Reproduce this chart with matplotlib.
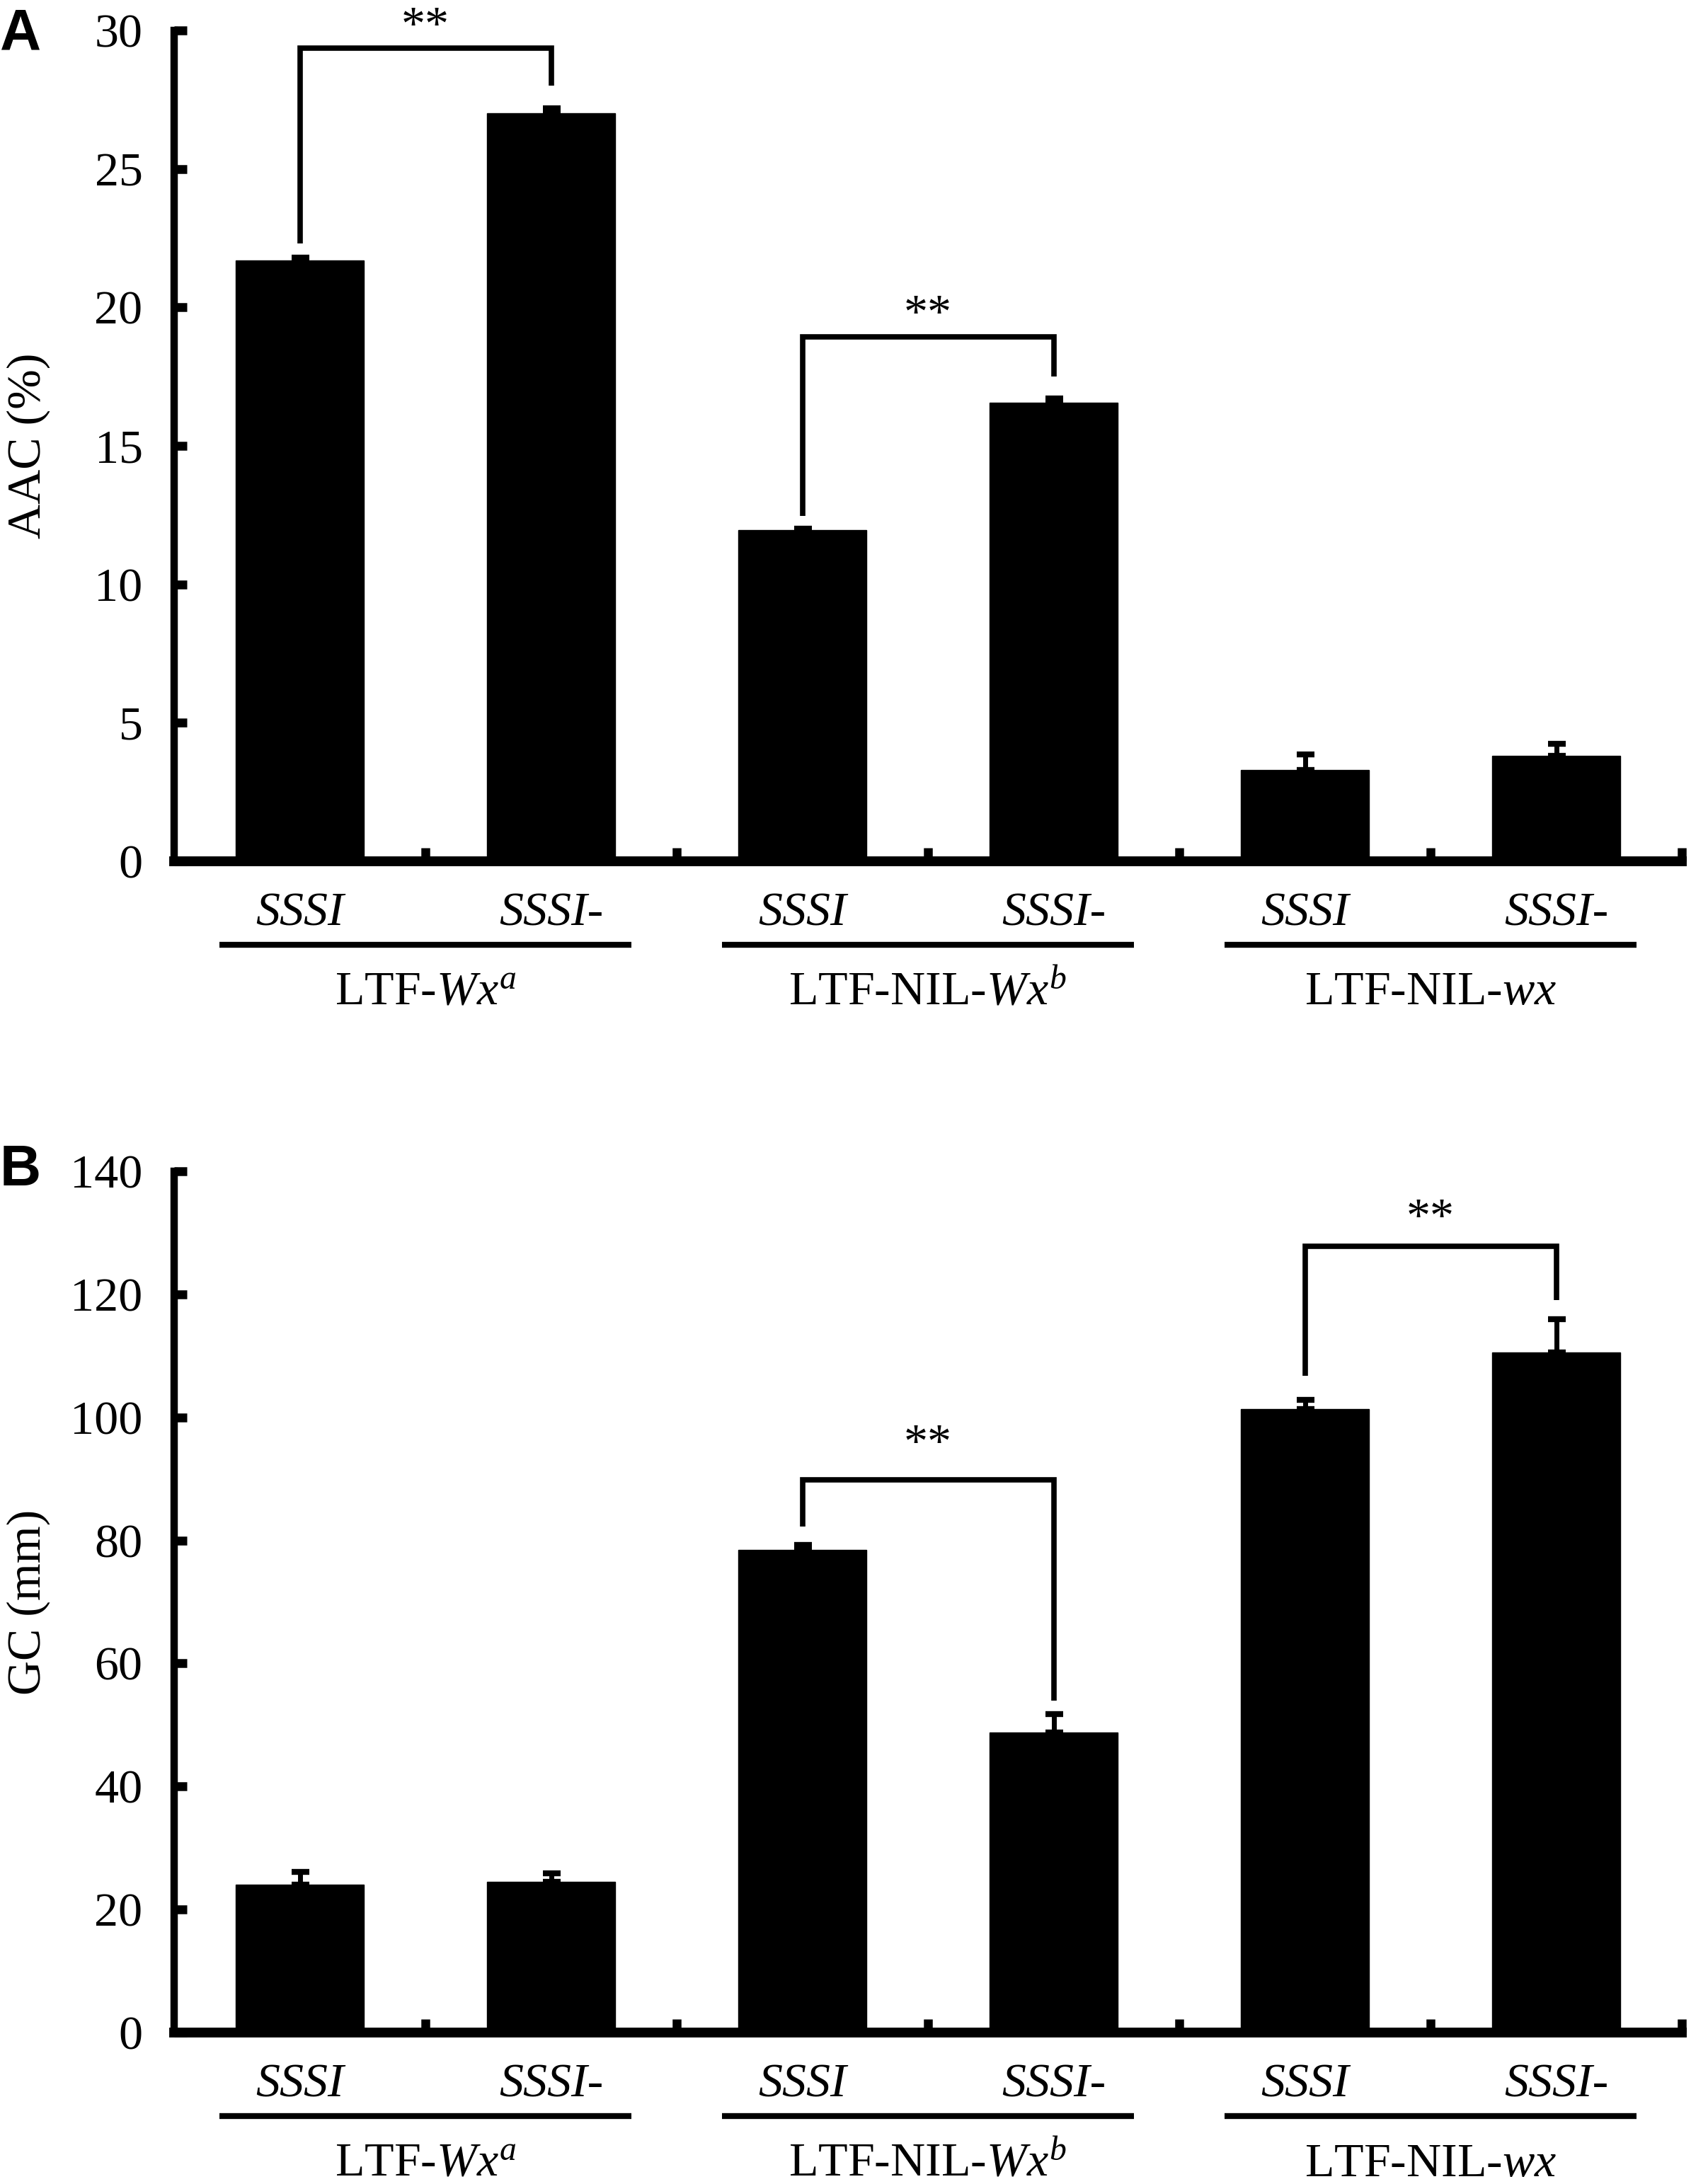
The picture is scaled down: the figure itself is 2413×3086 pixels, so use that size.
import matplotlib
matplotlib.use("Agg")
import matplotlib.pyplot as plt
from matplotlib.transforms import ScaledTranslation
from matplotlib.lines import Line2D

plt.rcParams['font.family'] = ['Liberation Serif', 'DejaVu Serif']
plt.rcParams['mathtext.fontset'] = 'custom'
plt.rcParams['mathtext.rm'] = 'Liberation Serif'
plt.rcParams['mathtext.it'] = 'Liberation Serif:italic'
plt.rcParams['mathtext.bf'] = 'Liberation Serif:bold'

# ---------------- data ----------------
bar_labels = ["SSSI", "SSSI-", "SSSI", "SSSI-", "SSSI", "SSSI-"]
group_labels = [r"LTF-$\mathit{Wx}^{a}$", r"LTF-NIL-$\mathit{Wx}^{b}$", r"LTF-NIL-$\mathit{wx}$"]

aac_values = [21.7, 27.0, 11.95, 16.55, 3.3, 3.8]
aac_errors = [0.1, 0.2, 0.05, 0.15, 0.55, 0.45]

gc_values = [24.1, 24.5, 78.5, 48.8, 101.3, 110.5]
gc_errors = [2.0, 1.4, 0.8, 3.0, 1.6, 5.5]

aac_ticks = [0, 5, 10, 15, 20, 25, 30]
gc_ticks = [0, 20, 40, 60, 80, 100, 120, 140]

# significance brackets: (left bar, right bar, top y, left end y, right end y, star baseline y)
aac_brackets = [(0, 1, 29.35, 22.3, 28.0, 29.7), (2, 3, 18.93, 12.48, 17.5, 19.3)]
gc_brackets = [(2, 3, 89.8, 82.3, 54.0, 93.6), (4, 5, 127.8, 106.8, 119.1, 130.3)]

# ---------------- figure ----------------
W, H = 2413, 3086
DPI = 100
fig = plt.figure(figsize=(W / DPI, H / DPI), dpi=DPI)

FS = 49
ax_left = 246 / W
ax_right = 2376 / W

panels = [
    dict(rect=(ax_left, 1 - 1217 / H, ax_right - ax_left, (1217 - 43) / H),
         vals=aac_values, errs=aac_errors, ticks=aac_ticks, ylim=(0, 30),
         ylabel="AAC (%)", brackets=aac_brackets, letter="A", letter_y=10),
    dict(rect=(ax_left, 1 - 2872 / H, ax_right - ax_left, (2872 - 1655) / H),
         vals=gc_values, errs=gc_errors, ticks=gc_ticks, ylim=(0, 140),
         ylabel="GC (mm)", brackets=gc_brackets, letter="B", letter_y=1616),
]

for p in panels:
    ax = fig.add_axes(p["rect"])
    n = len(p["vals"])
    xs = [i + 0.5 for i in range(n)]
    ax.bar(xs, p["vals"], width=0.51, color="black", edgecolor="black", zorder=2)
    ax.errorbar(xs, p["vals"], yerr=[[0] * n, p["errs"]], fmt="none", ecolor="black",
                elinewidth=5, capsize=9, capthick=6, zorder=3)
    ax.set_xlim(0, n)
    ax.set_ylim(*p["ylim"])
    ax.set_yticks(p["ticks"])
    ax.set_yticklabels([str(t) for t in p["ticks"]], fontsize=FS)
    ax.set_xticks(list(range(1, n + 1)))
    ax.set_xticklabels([])
    ax.tick_params(axis="y", direction="in", length=13, width=9, pad=32)
    ax.tick_params(axis="x", direction="in", length=14, width=9)
    for s in ("top", "right"):
        ax.spines[s].set_visible(False)
    ax.spines["left"].set_linewidth(7.5)
    ax.spines["bottom"].set_linewidth(10)
    ax.spines["left"].set_capstyle("projecting")
    ax.spines["bottom"].set_capstyle("projecting")
    ax.set_ylabel(p["ylabel"], fontsize=FS)
    ax.yaxis.set_label_coords(-0.082, 0.5)

    # brackets
    for (i, j, top, yl, yr, ys) in p["brackets"]:
        ax.plot([xs[i], xs[i], xs[j], xs[j]], [yl, top, top, yr], color="black",
                lw=5.5, solid_capstyle="butt", solid_joinstyle="miter", clip_on=False, zorder=4)
        ax.text((xs[i] + xs[j]) / 2, ys, "**", ha="center", va="baseline",
                fontsize=FS, clip_on=False)

    # category labels beneath axis
    xt = ax.get_xaxis_transform()
    for x, lab in zip(xs, bar_labels):
        ax.annotate(lab, xy=(x, 0), xycoords=xt, xytext=(0, -74), textcoords="offset pixels",
                    ha="center", va="center", fontsize=FS, style="italic",
                    annotation_clip=False)
    # group lines and labels
    line_tr = xt + ScaledTranslation(0, -118 / DPI, fig.dpi_scale_trans)
    for g, glab in enumerate(group_labels):
        cx = (xs[2 * g] + xs[2 * g + 1]) / 2
        ax.add_line(Line2D([cx - 0.82, cx + 0.82], [0, 0], transform=line_tr,
                           color="black", lw=6, solid_capstyle="butt", clip_on=False))
        ax.annotate(glab, xy=(cx, 0), xycoords=xt, xytext=(0, -186), textcoords="offset pixels",
                    ha="center", va="center", fontsize=FS, annotation_clip=False)

    fig.text(0.0, 1 - p["letter_y"] / H, p["letter"], ha="left", va="top",
             fontsize=58, fontweight="bold", family=["Liberation Sans", "DejaVu Sans"])

fig.savefig("out.png", dpi=DPI, facecolor="white")
